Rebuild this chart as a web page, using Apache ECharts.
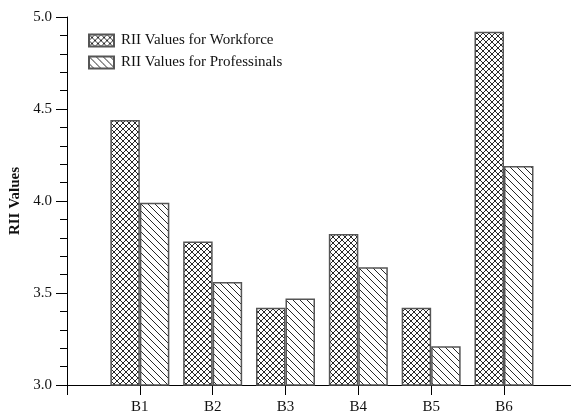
<!DOCTYPE html>
<html>
<head>
<meta charset="utf-8">
<script src="https://cdn.jsdelivr.net/npm/echarts@6/dist/echarts.min.js"></script>
<style>
  html, body { margin: 0; padding: 0; background: #fff; }
  #chart { width: 571px; height: 417px; }
</style>
</head>
<body>
<div id="chart"></div>
<script>
var categories = ['B1', 'B2', 'B3', 'B4', 'B5', 'B6'];
var workforce = [4.44, 3.78, 3.42, 3.82, 3.42, 4.92];
var professionals = [3.99, 3.56, 3.47, 3.64, 3.21, 4.19];
var yTicks = [3.0, 3.5, 4.0, 4.5, 5.0];

// crosshatch tile
function crossTile() {
  var c = document.createElement('canvas');
  c.width = 6; c.height = 6;
  var g = c.getContext('2d');
  g.fillStyle = '#fff'; g.fillRect(0, 0, 6, 6);
  g.strokeStyle = '#111'; g.lineWidth = 0.9;
  g.beginPath();
  g.moveTo(0, 0); g.lineTo(6, 6);
  g.moveTo(6, 0); g.lineTo(0, 6);
  g.stroke();
  return c;
}
// backslash hatch tile
function hatchTile() {
  var c = document.createElement('canvas');
  c.width = 7; c.height = 7;
  var g = c.getContext('2d');
  g.fillStyle = '#fff'; g.fillRect(0, 0, 7, 7);
  g.strokeStyle = '#111'; g.lineWidth = 0.9;
  g.beginPath();
  g.moveTo(-1, -1); g.lineTo(8, 8);
  g.moveTo(-1, 6); g.lineTo(1, 8);
  g.moveTo(6, -1); g.lineTo(8, 1);
  g.stroke();
  return c;
}

var font = '"Liberation Serif", "Times New Roman", serif';
var chart = echarts.init(document.getElementById('chart'));

chart.setOption({
  animation: false,
  backgroundColor: '#fff',
  textStyle: { fontFamily: font },
  grid: { left: 67, right: 0, top: 17, bottom: 32, containLabel: false, outerBoundsMode: 'none' },
  legend: {
    orient: 'vertical',
    left: 83,
    top: 28,
    itemWidth: 25,
    itemHeight: 12,
    itemGap: 7,
    icon: 'rect',
    textStyle: { fontFamily: font, fontSize: 15, color: '#111', padding: [0, 0, 0, 2] },
    data: ['RII Values for Workforce', 'RII Values for Professinals']
  },
  xAxis: {
    type: 'value',
    min: 0,
    max: 6.92,
    interval: 1,
    splitLine: { show: false },
    axisLine: { lineStyle: { color: '#000', width: 1 } },
    axisTick: { show: true, length: 10, customValues: [0, 1, 2, 3, 4, 5, 6], lineStyle: { color: '#000' } },
    axisLabel: {
      customValues: [1, 2, 3, 4, 5, 6],
      margin: 15,
      fontFamily: font, fontSize: 15, color: '#111',
      formatter: function (v) { return categories[v - 1] || ''; }
    }
  },
  yAxis: {
    type: 'value',
    min: yTicks[0],
    max: yTicks[yTicks.length - 1],
    interval: 0.5,
    name: 'RII Values',
    nameLocation: 'middle',
    nameRotate: 90,
    nameGap: 38,
    nameTextStyle: { fontFamily: font, fontSize: 15, fontWeight: 'bold', color: '#111' },
    splitLine: { show: false },
    axisLine: { show: true, lineStyle: { color: '#000', width: 1 } },
    axisTick: { show: true, length: 11, lineStyle: { color: '#000' } },
    minorTick: { show: true, splitNumber: 5, length: 7, lineStyle: { color: '#000' } },
    axisLabel: {
      margin: 15,
      fontFamily: font, fontSize: 15, color: '#111',
      formatter: function (v) { return v.toFixed(1); }
    }
  },
  series: [
    {
      name: 'RII Values for Workforce',
      type: 'bar',
      barWidth: 29.5,
      barGap: '0%',
      itemStyle: {
        color: { image: crossTile(), repeat: 'repeat' },
        borderColor: '#555',
        borderWidth: 1.5
      },
      data: workforce.map(function (v, i) { return [i + 1, v]; })
    },
    {
      name: 'RII Values for Professinals',
      type: 'bar',
      barWidth: 29.5,
      barGap: '0%',
      itemStyle: {
        color: { image: hatchTile(), repeat: 'repeat' },
        borderColor: '#555',
        borderWidth: 1.5
      },
      data: professionals.map(function (v, i) { return [i + 1, v]; })
    }
  ]
});
</script>
</body>
</html>
